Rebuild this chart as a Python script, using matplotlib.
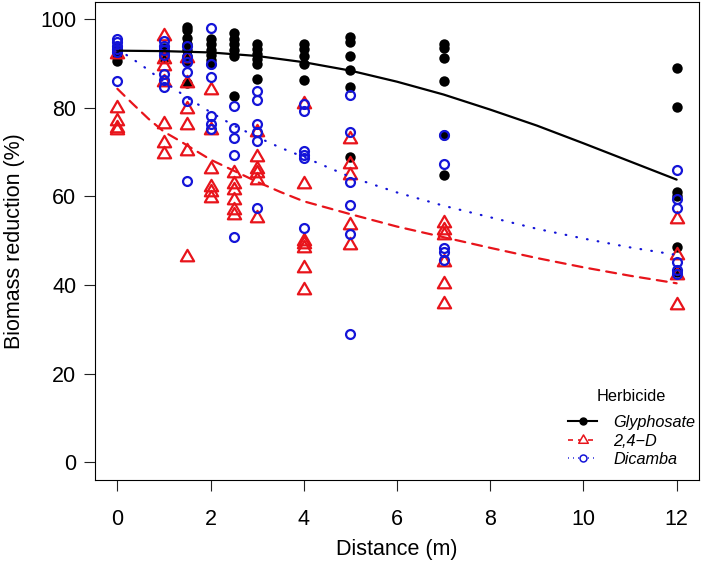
import matplotlib
matplotlib.use("Agg")
import matplotlib.pyplot as plt
from matplotlib.lines import Line2D
from matplotlib.path import Path

plt.rcParams['font.family'] = ['Liberation Sans', 'DejaVu Sans']

# ---- observed data (distance m -> biomass reduction %) ----
glyph_x = [0]*4 + [1]*3 + [1.5]*8 + [2]*6 + [2.5]*6 + [3]*6 + [4]*5 + [5]*6 + [7]*6 + [12]*6
glyph_y = [93.8, 92.5, 91.5, 90.5,
           93.6, 92.4, 91.3,
           98.3, 97.5, 95.8, 94.5, 93.0, 91.8, 90.3, 85.6,
           95.5, 94.3, 93.0, 92.0, 90.8, 89.8,
           96.9, 95.6, 94.3, 93.0, 91.8, 82.6,
           94.3, 93.3, 92.2, 91.0, 89.8, 86.5,
           94.5, 93.3, 91.8, 89.8, 86.3,
           95.9, 94.9, 91.8, 88.5, 84.7, 68.9,
           94.5, 93.4, 91.3, 86.0, 73.8, 64.8,
           89.0, 80.3, 61.0, 60.2, 48.6, 43.0]

d24_x = [0]*5 + [1]*7 + [1.5]*6 + [2]*6 + [2.5]*6 + [3]*6 + [4]*7 + [5]*5 + [7]*6 + [12]*4
d24_y = [92.2, 80.0, 77.0, 75.5, 75.0,
         96.3, 91.0, 89.5, 85.8, 76.3, 72.0, 69.5,
         91.3, 85.6, 79.7, 76.2, 70.2, 46.4,
         84.0, 75.1, 66.3, 62.2, 61.0, 59.7,
         65.2, 62.8, 61.4, 59.2, 57.0, 55.9,
         74.6, 68.9, 66.3, 65.3, 63.8, 55.2,
         80.8, 62.7, 50.0, 49.2, 48.3, 43.9, 38.9,
         73.0, 67.4, 64.8, 53.5, 49.0,
         54.1, 52.4, 51.2, 45.3, 40.3, 35.7,
         55.0, 46.8, 42.3, 35.5]

dic_x = [0]*6 + [1]*7 + [1.5]*6 + [2]*6 + [2.5]*5 + [3]*6 + [4]*6 + [5]*6 + [7]*5 + [12]*6
dic_y = [95.6, 94.8, 94.0, 93.3, 92.6, 86.0,
         95.0, 94.0, 93.0, 92.0, 87.7, 86.2, 84.8,
         94.0, 91.5, 90.3, 88.2, 81.5, 63.4,
         98.0, 89.8, 87.0, 78.2, 76.4, 75.3,
         80.5, 75.5, 73.2, 69.3, 50.9,
         83.8, 81.7, 76.4, 74.5, 72.6, 57.3,
         80.9, 79.2, 70.2, 69.4, 68.7, 52.8,
         82.8, 74.5, 63.3, 58.0, 51.6, 28.9,
         73.8, 67.3, 48.3, 47.5, 45.6,
         66.0, 59.5, 57.5, 45.3, 43.4, 42.6]

# ---- fitted curves ----
glyph_fit_x = [0, 1, 2, 3, 4, 5, 6, 7, 8, 9, 10, 11, 12]
glyph_fit_y = [92.9, 92.8, 92.5, 91.7, 90.3, 88.4, 85.9, 83.0, 79.6, 76.0, 72.0, 67.9, 63.8]

d24_fit_x = [0, 0.33, 0.67, 1, 1.33, 1.67, 2, 2.5, 3, 3.5, 4, 5, 6, 7, 8, 9, 10, 11, 12]
d24_fit_y = [84.3, 80.9, 77.5, 74.6, 72.6, 70.4, 68.3, 65.8, 63.3, 61.0, 58.9, 56.0,
             53.2, 50.8, 48.4, 46.1, 44.0, 42.1, 40.4]

dic_fit_x = [0, 0.5, 1, 1.5, 2, 2.5, 3, 3.5, 4, 5, 6, 7, 8, 9, 10, 11, 12]
dic_fit_y = [93.3, 89.8, 85.9, 82.3, 79.0, 76.0, 73.4, 71.0, 68.9, 64.4, 60.9, 57.9,
             55.3, 52.7, 50.5, 48.5, 46.8]

x_ticks = [0, 2, 4, 6, 8, 10, 12]
y_ticks = [0, 20, 40, 60, 80, 100]
labels = ["Glyphosate", "2,4\u2212D", "Dicamba"]

RED = "#E8141B"
BLUE = "#1414D8"

W, H = 704, 570
fig = plt.figure(figsize=(W/100, H/100), dpi=100)
ax = fig.add_axes([95/W, 90/H, 604/W, 478.5/H])

tri = Path([(-1, -0.577), (1, -0.577), (0, 1.155), (0, 0)],
           [Path.MOVETO, Path.LINETO, Path.LINETO, Path.CLOSEPOLY])

ax.plot(glyph_x, glyph_y, ls='none', marker='o', ms=7.5, mfc='black', mec='black', mew=0, zorder=2)
ax.plot(d24_x, d24_y, ls='none', marker=tri, ms=11, mfc='none', mec=RED, mew=1.6, zorder=3)
ax.plot(dic_x, dic_y, ls='none', marker='o', ms=6.4, mfc='none', mec=BLUE, mew=1.6, zorder=4)

ax.plot(glyph_fit_x, glyph_fit_y, color='black', lw=1.6, solid_capstyle='round', zorder=5)
ax.plot(d24_fit_x, d24_fit_y, color=RED, lw=1.6, ls=(0, (4.5, 3.2)), dash_capstyle='round', zorder=5)
ax.plot(dic_fit_x, dic_fit_y, color=BLUE, lw=1.6, ls=(0, (0.3, 4.6)), dash_capstyle='round', zorder=5)

ax.set_xlim(-0.48, 12.48)
ax.set_ylim(-4, 104)
ax.set_xticks(x_ticks)
ax.set_yticks(y_ticks)
ax.tick_params(axis='both', length=8, width=0.8, labelsize=15.5, color='#222222')
ax.tick_params(axis='x', pad=13)
ax.tick_params(axis='y', pad=5.5)
for s in ax.spines.values():
    s.set_linewidth(0.8)

ax.set_xlabel("Distance (m)", fontsize=15.5)
ax.set_ylabel("Biomass reduction (%)", fontsize=15.5)
ax.xaxis.set_label_coords(0.5, (480 - 549) / 478.5)
ax.xaxis.label.set_va('center')
ax.yaxis.set_label_coords((14.5 - 95) / 604, 0.5)
ax.yaxis.label.set_va('center')

handles = [
    Line2D([], [], color='black', lw=1.5, marker='o', ms=5, mfc='black', mec='black'),
    Line2D([], [], color=RED, lw=1.2, ls=(0, (3, 3)), marker=tri, ms=8, mfc='white', mec=RED, mew=1.1),
    Line2D([], [], color=BLUE, lw=1.2, ls=(0, (0.5, 2.5)), marker='o', ms=5, mfc='white', mec=BLUE, mew=1.1),
]
leg = ax.legend(handles, labels, loc='upper left', bbox_to_anchor=(568/W, 1 - 389/H),
                bbox_transform=fig.transFigure, frameon=False, borderpad=0, borderaxespad=0,
                handlelength=1.8, handletextpad=1.0, labelspacing=0.21,
                prop={'style': 'italic', 'size': 11.7}, title="Herbicide",
                title_fontproperties={'size': 11.7})
leg._legend_box.sep = 8

fig.savefig("out.png", dpi=100)
